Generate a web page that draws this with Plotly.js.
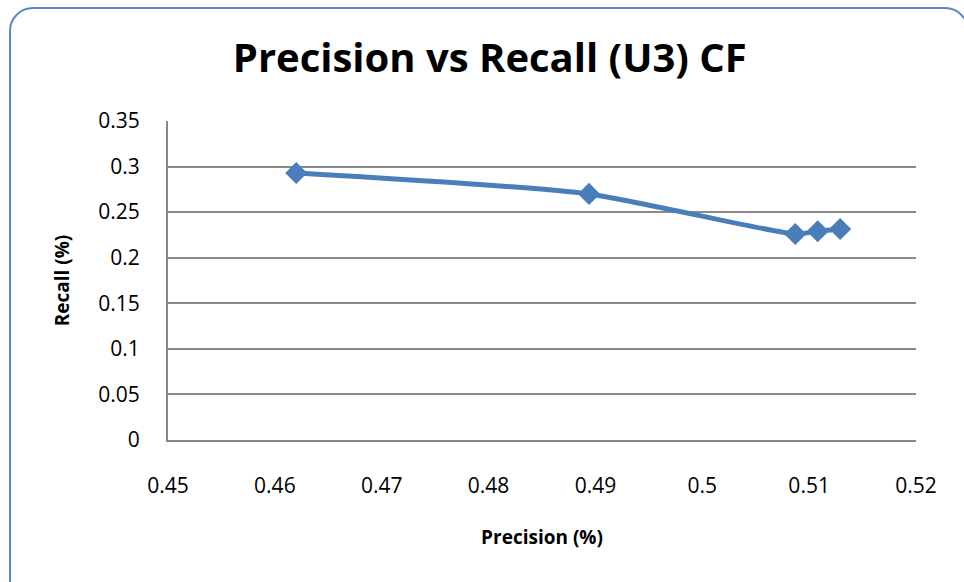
<!DOCTYPE html>
<html>
<head>
<meta charset="utf-8">
<script src="https://cdn.plot.ly/plotly-3.0.1.min.js"></script>
<style>
html,body{margin:0;padding:0;background:#fff;overflow:hidden;}
#frame{position:absolute;left:9px;top:7px;width:960px;height:600px;border:2px solid #5a87c2;border-radius:24px;box-sizing:border-box;}
#chart{position:absolute;left:0;top:0;width:964px;height:582px;}
</style>
</head>
<body>
<div id="frame"></div>
<div id="chart"></div>
<script>
const precision = [0.462, 0.4894, 0.5087, 0.5108, 0.5129];
const recall = [0.293, 0.270, 0.226, 0.229, 0.2315];
const xTicks = [0.45, 0.46, 0.47, 0.48, 0.49, 0.5, 0.51, 0.52];
const yTicks = [0, 0.05, 0.1, 0.15, 0.2, 0.25, 0.3, 0.35];

const FONT = "'Open Sans', Roboto, sans-serif";

const trace = {
  x: precision, y: recall, type: 'scatter', mode: 'lines+markers',
  line: {color: '#4a7ebb', width: 5, shape: 'spline', smoothing: 0.6},
  marker: {symbol: 'diamond', size: 17, color: '#4a7ebb'},
  showlegend: false, hoverinfo: 'none'
};

const layout = {
  width: 964, height: 582,
  margin: {l: 168, r: 48, t: 121, b: 142},
  paper_bgcolor: 'rgba(0,0,0,0)', plot_bgcolor: 'rgba(0,0,0,0)',
  font: {family: FONT, color: '#000'},
  title: {text: '<b>Precision vs Recall (U3) CF</b>', font: {size: 40, family: FONT, color: '#000'},
          x: 0.508, xref: 'container', y: 0.9, yref: 'container', yanchor: 'middle'},
  xaxis: {
    range: [0.45, 0.52], tickvals: xTicks, ticktext: xTicks.map(String),
    showgrid: false, zeroline: false, showline: true, linecolor: '#878787', linewidth: 2,
    ticks: '', ticklabelstandoff: 26, tickfont: {size: 21, family: FONT},
    title: {text: '<b>Precision (%)</b>', font: {size: 19, family: FONT}, standoff: 32}
  },
  yaxis: {
    range: [0, 0.35], tickvals: yTicks, ticktext: yTicks.map(String),
    showgrid: true, gridcolor: '#8a8a8a', gridwidth: 2, zeroline: false,
    showline: true, linecolor: '#878787', linewidth: 2,
    ticks: '', ticklabelstandoff: 22, tickfont: {size: 21, family: FONT},
    title: {text: '<b>Recall (%)</b>', font: {size: 19, family: FONT}, standoff: 24}
  }
};

Plotly.newPlot('chart', [trace], layout, {staticPlot: true});
</script>
</body>
</html>
